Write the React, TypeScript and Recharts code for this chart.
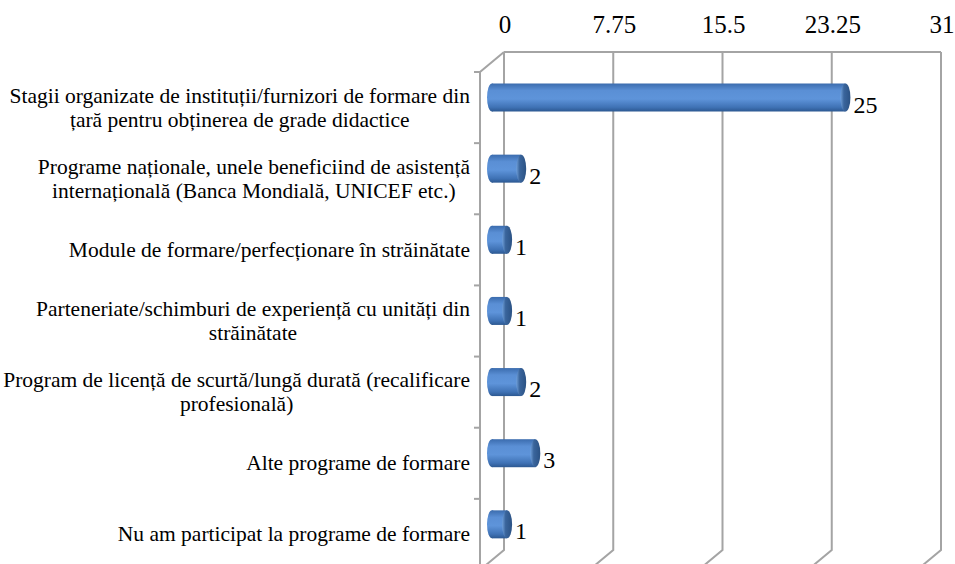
import React from 'react';
import { BarChart, Bar, XAxis, YAxis, CartesianGrid, LabelList } from 'recharts';

const categories = [
  'Stagii organizate de instituții/furnizori de formare din\nțară pentru obținerea de grade didactice',
  'Programe naționale, unele beneficiind de asistență\ninternațională (Banca Mondială, UNICEF etc.)',
  'Module de formare/perfecționare în străinătate',
  'Parteneriate/schimburi de experiență cu unități din\nstrăinătate',
  'Program de licență de scurtă/lungă durată (recalificare\nprofesională)',
  'Alte programe de formare',
  'Nu am participat la programe de formare',
];
const values = [25, 2, 1, 1, 2, 3, 1];
const valueTicks = [0, 7.75, 15.5, 23.25, 31];

const data = categories.map((c, i) => ({ name: c, value: values[i] }));

const FONT = "'Liberation Serif', Tinos, 'Times New Roman', 'DejaVu Serif', serif";
const DEPTH_X = 24;
const DEPTH_Y = 20;
const GRID = '#a4a4a4';
const CAT_FONT = 21.5;
const LINE_H = 24;

let measureCtx: CanvasRenderingContext2D | null = null;
function measure(t: string, size: number): number {
  if (!measureCtx) measureCtx = document.createElement('canvas').getContext('2d');
  if (!measureCtx) return t.length * size * 0.45;
  measureCtx.font = `${size}px ${FONT}`;
  return measureCtx.measureText(t).width;
}

const ValueTick = (props: any) => {
  const { x, y, payload } = props;
  return (
    <text x={x + 1} y={y - 19} textAnchor="middle" style={{ fontSize: 25, fontFamily: FONT }} fill="#000">
      {payload.value}
    </text>
  );
};

const CategoryTick = (props: any) => {
  const { x, y, payload } = props;
  const lines: string[] = String(payload.value).split('\n');
  const w = Math.max(...lines.map((l) => measure(l, CAT_FONT)));
  const cx = x - 34 - w / 2;
  const cy = y + DEPTH_Y;
  const first = cy - ((lines.length - 1) * LINE_H) / 2 + 7;
  const half = payload && typeof payload.offset === 'number' && payload.offset > 0 ? payload.offset : 35.57;
  const tickY = cy - half;
  return (
    <g>
      <line x1={x - DEPTH_X - 6} y1={tickY} x2={x - DEPTH_X} y2={tickY} stroke={GRID} strokeWidth={2} />
      <text textAnchor="middle" style={{ fontSize: CAT_FONT, fontFamily: FONT }} fill="#000">
        {lines.map((l, i) => (
          <tspan key={i} x={cx} y={first + i * LINE_H}>
            {l}
          </tspan>
        ))}
      </text>
    </g>
  );
};

const GridLine = (p: any) => {
  const { x1, y1, y2, index } = p;
  const isFirst = typeof p.x === 'number' ? Math.abs(x1 - p.x) < 0.5 : index === 0;
  return (
    <g key={`g-${x1}`}>
      <path
        d={`M${x1},${y1} L${x1},${y2} L${x1 - DEPTH_X},${y2 + DEPTH_Y}`}
        stroke={GRID}
        strokeWidth={2}
        fill="none"
      />
      {isFirst && (
        <path
          d={`M${x1},${y1} L${x1 - DEPTH_X},${y1 + DEPTH_Y} L${x1 - DEPTH_X},${y2 + DEPTH_Y + 10}`}
          stroke={GRID}
          strokeWidth={2}
          fill="none"
        />
      )}
    </g>
  );
};

const Cylinder = (props: any) => {
  const { x, y, width, height, index } = props;
  if (x == null || y == null) return null;
  const cy = y + height / 2 + DEPTH_Y / 2 - 0.5;
  const h = height;
  const top = cy - h / 2;
  const L = x - 17;
  const R = x + width - 6;
  const rx = 5;
  const gid = `cylBody${index}`;
  const cid = `cylCap${index}`;
  return (
    <g>
      <defs>
        <linearGradient id={gid} x1="0" y1="0" x2="0" y2="1">
          <stop offset="0%" stopColor="#3b6cae" />
          <stop offset="25%" stopColor="#5a8fd5" />
          <stop offset="55%" stopColor="#5e94da" />
          <stop offset="85%" stopColor="#3f72b5" />
          <stop offset="100%" stopColor="#2c5891" />
        </linearGradient>
        <linearGradient id={cid} x1="0" y1="0" x2="1" y2="0">
          <stop offset="0%" stopColor="#6f9fd9" />
          <stop offset="35%" stopColor="#3a659c" />
          <stop offset="100%" stopColor="#2b5284" />
        </linearGradient>
      </defs>
      <ellipse cx={L + rx} cy={cy} rx={rx} ry={h / 2} fill={`url(#${gid})`} />
      <rect x={L + rx} y={top} width={Math.max(0, R - L - 2 * rx)} height={h} fill={`url(#${gid})`} />
      <ellipse cx={R - rx} cy={cy} rx={rx} ry={h / 2} fill={`url(#${cid})`} />
    </g>
  );
};

const ValueLabel = (props: any) => {
  const { x, y, width, height, value } = props;
  if (x == null) return null;
  const R = x + width - 6;
  const cy = y + height / 2 + DEPTH_Y / 2 - 0.5;
  return (
    <text x={R + 3} y={cy + 15} style={{ fontSize: 24, fontFamily: FONT }} fill="#000" textAnchor="start">
      {value}
    </text>
  );
};

export default function App() {
  return (
    <div
      style={{
        position: 'absolute',
        left: 0,
        top: 0,
        width: 955,
        height: 564,
        background: '#fff',
        overflow: 'hidden',
        fontFamily: FONT,
      }}
    >
      <BarChart
        width={955}
        height={564}
        data={data}
        layout="vertical"
        margin={{ top: 0, right: 14, bottom: 14, left: 0 }}
      >
        <CartesianGrid horizontal={false} vertical={GridLine} />
        <XAxis
          type="number"
          orientation="top"
          domain={[0, 31]}
          ticks={valueTicks}
          interval={0}
          height={52}
          axisLine={{ stroke: GRID, strokeWidth: 2 }}
          tickLine={false}
          tickSize={0}
          tickMargin={0}
          tick={<ValueTick />}
        />
        <YAxis
          type="category"
          dataKey="name"
          width={504}
          interval={0}
          axisLine={false}
          tickLine={false}
          tickSize={0}
          tickMargin={0}
          tick={<CategoryTick />}
        />
        <Bar dataKey="value" barSize={28} isAnimationActive={false} shape={<Cylinder />}>
          <LabelList dataKey="value" content={<ValueLabel />} />
        </Bar>
      </BarChart>
    </div>
  );
}
